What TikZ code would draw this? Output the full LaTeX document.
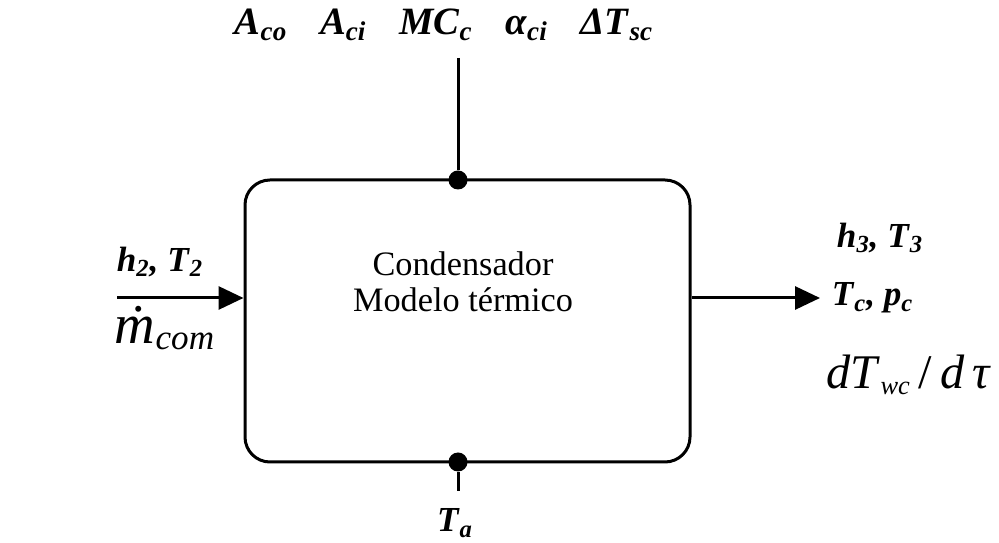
\documentclass[tikz,border=0pt]{standalone}
\usepackage{fontspec}
\setmainfont{Liberation Serif}
\usetikzlibrary{arrows.meta}

\newcommand{\bi}[1]{\textbf{\textit{#1}}}
\newcommand{\bisub}[2]{\bi{#1}\textsubscript{\bi{#2}}}

\tikzset{
  thickline/.style={line width=0.06cm},
  flowarrow/.style={thickline,-{Triangle[length=0.5cm,width=0.46cm]}},
  joint/.style={circle,fill,inner sep=0pt,minimum size=0.38cm},
  varlabel/.style={inner sep=0pt,font=\fontsize{20}{22}\selectfont}
}

\begin{document}
\begin{tikzpicture}
    \useasboundingbox (0,0) rectangle (19.98,10.86);

    % block
    \node[draw,thickline,rounded corners=0.5cm,minimum width=8.9cm,minimum height=5.64cm] (cond) at (9.35,4.44) {};
    \node[align=center,inner sep=0pt,font=\fontsize{19.5}{20.5}\selectfont] (condtxt) at (9.26,5.22)
          {Condensador\\Modelo térmico};

    % parameters on top
    \coordinate (ptop) at (9.16,9.7);
    \node[joint] (jtop) at (9.16,7.26) {};
    \draw[thickline] (ptop) -- (jtop);
    \node[varlabel,font=\fontsize{22}{24}\selectfont] (params) at (8.88,10.36)
          {\bisub{A}{co}\hspace{0.85em}\bisub{A}{ci}\hspace{0.85em}\bisub{MC}{c}\hspace{0.85em}\bisub{α}{ci}\hspace{0.85em}\bisub{ΔT}{sc}};

    % ambient
    \node[joint] (jbot) at (9.16,1.62) {};
    \coordinate (pbot) at (9.16,1.04);
    \draw[thickline] (jbot) -- (pbot);
    \node[varlabel] (amb) at (9.1,0.4) {\bisub{T}{a}};

    % inlet
    \coordinate (pin) at (2.34,4.9);
    \draw[flowarrow] (pin) -- (pin -| cond.west);
    \node[varlabel] (inlet) at (3.2,5.62) {\bisub{h}{2}\bi{,} \bisub{T}{2}};
    \node[inner sep=0pt] (mdot) at (3.3,4.3)
          {\fontsize{32}{32}\selectfont\textit{ṁ}\textsubscript{\fontsize{20}{20}\selectfont\textit{com}}};

    % outlet
    \coordinate (pout) at (16.4,4.9);
    \draw[flowarrow] (pout -| cond.east) -- (pout);
    \node[varlabel] (outA) at (17.6,6.1) {\bisub{h}{3}\bi{,} \bisub{T}{3}};
    \node[varlabel] (outB) at (17.45,4.9) {\bisub{T}{c}\bi{,} \bisub{p}{c}};
    \node[inner sep=0pt] (rate) at (18.18,3.36)
          {\fontsize{27.5}{27.5}\selectfont\textit{dT}\textsubscript{\fontsize{15}{15}\selectfont\textit{wc}}\,/\,\textit{d\,τ}};

\end{tikzpicture}
\end{document}
